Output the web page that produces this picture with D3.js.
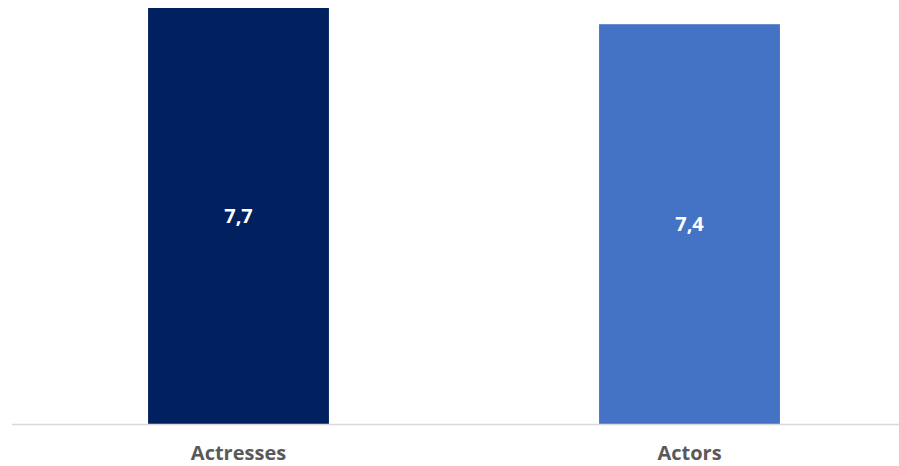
<!DOCTYPE html>
<html>
<head>
<meta charset="utf-8">
<script src="https://cdn.jsdelivr.net/npm/d3@7"></script>
<style>
  body { margin: 0; background: #fff; }
  #chart { width: 899px; height: 466px; }
  .cat { font-family: "Open Sans", sans-serif; font-weight: 700; font-size: 20px; fill: #595959; }
  .val { font-family: "Open Sans", sans-serif; font-weight: 700; font-size: 20px; fill: #fff; }
</style>
</head>
<body>
<div id="chart"></div>
<script>
// data
const categories = ["Actresses", "Actors"];
const values = [7.7, 7.4];
const valueLabels = ["7,7", "7,4"];
const colors = ["#002060", "#4472C4"];

const width = 899;
const height = 466;

const svg = d3.select("#chart")
    .append("svg")
    .attr("width", width)
    .attr("height", height);

// scales
const xScale = d3.scaleBand()
    .domain(categories)
    .range([13, 915])
    .paddingInner(0.599)
    .paddingOuter(0.2995);

const yScale = d3.scaleLinear()
    .domain([0, 7.7])
    .range([424, 8]);

// bars
svg.selectAll("rect.bar")
    .data(categories)
    .enter()
    .append("rect")
        .attr("class", "bar")
        .attr("x", d => xScale(d))
        .attr("y", (d, i) => yScale(values[i]))
        .attr("width", xScale.bandwidth())
        .attr("height", (d, i) => yScale(0) - yScale(values[i]))
        .attr("fill", (d, i) => colors[i]);

// baseline
svg.append("line")
    .attr("x1", 12)
    .attr("x2", width)
    .attr("y1", yScale(0) + 0.5)
    .attr("y2", yScale(0) + 0.5)
    .attr("stroke", "#D9D9D9")
    .attr("stroke-width", 1.5);

// value labels
svg.selectAll("text.val")
    .data(categories)
    .enter()
    .append("text")
        .attr("class", "val")
        .attr("x", d => xScale(d) + xScale.bandwidth() / 2)
        .attr("y", (d, i) => (yScale(values[i]) + yScale(0)) / 2)
        .attr("text-anchor", "middle")
        .attr("dy", "0.35em")
        .text((d, i) => valueLabels[i]);

// category labels
svg.selectAll("text.cat")
    .data(categories)
    .enter()
    .append("text")
        .attr("class", "cat")
        .attr("x", d => xScale(d) + xScale.bandwidth() / 2)
        .attr("y", 460)
        .attr("text-anchor", "middle")
        .text(d => d);
</script>
</body>
</html>
